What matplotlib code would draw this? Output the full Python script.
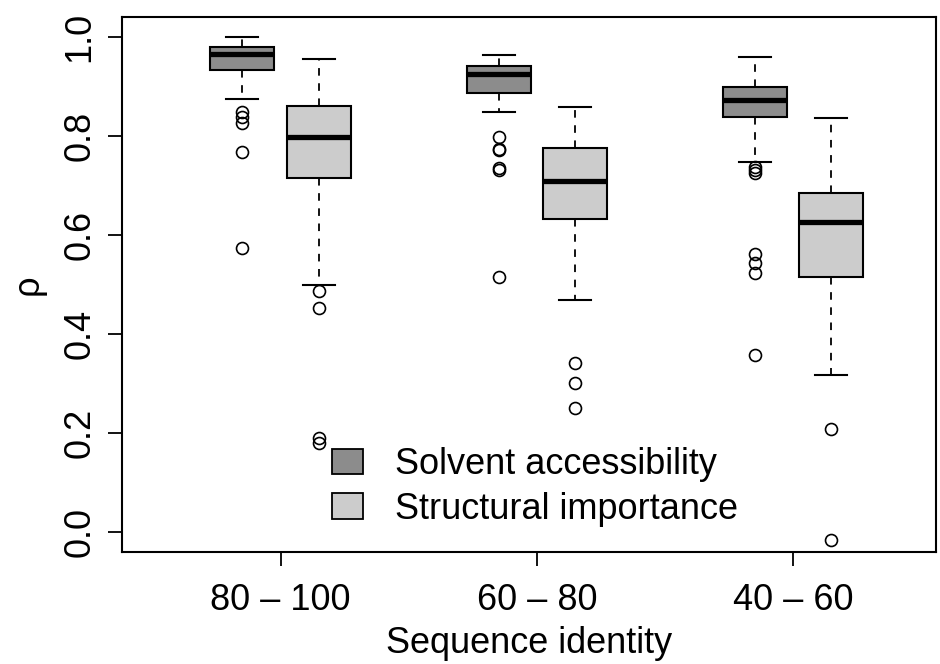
import matplotlib
matplotlib.use("Agg")
import matplotlib.pyplot as plt
from matplotlib.patches import Patch

plt.rcParams['font.family'] = ['Liberation Sans', 'DejaVu Sans']

# data
groups = ['80 \u2013 100', '60 \u2013 80', '40 \u2013 60']
series = ['Solvent accessibility', 'Structural importance']
colors = ['#8C8C8C', '#CCCCCC']

# solvent accessibility
sa_whislo = [0.874, 0.848, 0.748]
sa_q1 = [0.933, 0.886, 0.837]
sa_med = [0.965, 0.924, 0.872]
sa_q3 = [0.980, 0.941, 0.899]
sa_whishi = [0.999, 0.964, 0.960]
sa_fliers = [[0.849, 0.837, 0.826, 0.767, 0.573],
             [0.798, 0.773, 0.771, 0.736, 0.731, 0.515],
             [0.738, 0.731, 0.726, 0.562, 0.543, 0.523, 0.358]]

# structural importance
si_whislo = [0.498, 0.469, 0.317]
si_q1 = [0.714, 0.633, 0.516]
si_med = [0.798, 0.709, 0.627]
si_q3 = [0.860, 0.776, 0.685]
si_whishi = [0.955, 0.859, 0.835]
si_fliers = [[0.487, 0.452, 0.191, 0.180],
             [0.341, 0.301, 0.251],
             [0.208, -0.016]]


def make_stats(lo, q1, med, q3, hi, fl):
    return [dict(whislo=lo[i], q1=q1[i], med=med[i], q3=q3[i], whishi=hi[i],
                 fliers=fl[i]) for i in range(len(med))]


fig = plt.figure(figsize=(9.4, 6.64), dpi=100)
ax = fig.add_axes([122.3 / 940, 1 - 552.3 / 664, (936 - 122.3) / 940, (552.3 - 16.7) / 664])

off = 0.149
width = 0.25
allstats = [make_stats(sa_whislo, sa_q1, sa_med, sa_q3, sa_whishi, sa_fliers),
            make_stats(si_whislo, si_q1, si_med, si_q3, si_whishi, si_fliers)]
for k, st in enumerate(allstats):
    pos = [g + (-off if k == 0 else off) for g in range(len(groups))]
    ax.bxp(st, positions=pos, widths=width, patch_artist=True, manage_ticks=False,
           boxprops=dict(facecolor=colors[k], edgecolor='black', linewidth=1.5),
           medianprops=dict(color='black', linewidth=3.8, solid_capstyle='butt'),
           whiskerprops=dict(color='black', linewidth=1.3, linestyle=(0, (4.2, 4.2))),
           capprops=dict(color='black', linewidth=1.5),
           capwidths=width / 2,
           flierprops=dict(marker='o', markerfacecolor='none', markeredgecolor='black',
                           markersize=8.6, markeredgewidth=1.2))

ax.set_xlim(-0.618, 2.558)
ax.set_ylim(-0.0404, 1.0404)
ax.set_xticks(range(len(groups)))
ax.set_xticklabels(groups)
ax.set_yticks([0.0, 0.2, 0.4, 0.6, 0.8, 1.0])
ax.set_yticklabels(['0.0', '0.2', '0.4', '0.6', '0.8', '1.0'], rotation=90, va='center')
ax.tick_params(axis='both', length=10, width=1.3, labelsize=26, colors='black')
ax.tick_params(axis='y', pad=8)
ax.tick_params(axis='x', pad=12)
for s in ax.spines.values():
    s.set_linewidth(1.5)

ax.set_xlabel('Sequence identity', fontsize=26, labelpad=6)
ax.set_ylabel('\u03c1', fontsize=26, labelpad=12)

handles = [Patch(facecolor=colors[i], edgecolor='black', linewidth=1.3) for i in range(2)]
ax.legend(handles, series, loc='upper left', bbox_to_anchor=(0.258, 0.196),
          frameon=False, fontsize=26, handlelength=0.85, handleheight=0.7,
          handletextpad=0.9, labelspacing=0.26, borderaxespad=0, borderpad=0)

fig.savefig('out.png', dpi=100)
